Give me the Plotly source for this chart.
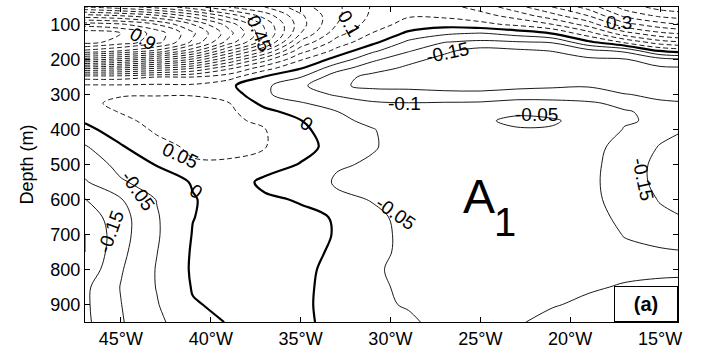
import plotly.graph_objects as go

# Grid: longitude (deg, negative = West) and depth (m)
lons = [-47, -45, -43, -41, -39, -37, -35, -33, -31, -29, -27, -25, -23, -21, -19, -17, -15, -13]
depths = [50, 75, 100, 125, 150, 175, 200, 225, 250, 275, 300, 325, 350, 375, 400,
          450, 500, 550, 600, 650, 700, 750, 800, 850, 900, 950]

# Mode amplitude field, one row per depth level
amp = [
    [0.55, 0.52, 0.48, 0.42, 0.35, 0.30, 0.22, 0.16, 0.095, 0.07, 0.08, 0.12, 0.18, 0.25, 0.32, 0.42, 0.47, 0.49],
    [0.72, 0.70, 0.66, 0.58, 0.48, 0.38, 0.26, 0.16, 0.09, 0.055, 0.06, 0.08, 0.12, 0.18, 0.25, 0.36, 0.41, 0.43],
    [0.88, 0.86, 0.80, 0.70, 0.58, 0.44, 0.27, 0.15, 0.075, 0.03, 0.02, 0.035, 0.06, 0.098, 0.17, 0.28, 0.33, 0.36],
    [0.98, 0.95, 0.88, 0.76, 0.62, 0.46, 0.25, 0.12, 0.048, -0.01, -0.04, -0.052, -0.03, 0.003, 0.08, 0.18, 0.24, 0.27],
    [0.97, 0.93, 0.87, 0.74, 0.58, 0.42, 0.19, 0.08, 0.015, -0.06, -0.098, -0.11, -0.103, -0.095, -0.01, 0.06, 0.13, 0.16],
    [0.84, 0.80, 0.74, 0.62, 0.45, 0.30, 0.12, 0.035, -0.04, -0.095, -0.14, -0.17, -0.16, -0.148, -0.115, -0.09, 0.005, 0.03],
    [0.62, 0.58, 0.52, 0.44, 0.30, 0.17, 0.055, -0.02, -0.09, -0.135, -0.165, -0.18, -0.18, -0.175, -0.16, -0.155, -0.12, -0.11],
    [0.36, 0.34, 0.30, 0.25, 0.16, 0.07, 0.003, -0.08, -0.13, -0.16, -0.175, -0.185, -0.185, -0.185, -0.18, -0.175, -0.158, -0.16],
    [0.12, 0.12, 0.10, 0.10, 0.07, -0.005, -0.048, -0.13, -0.165, -0.17, -0.175, -0.18, -0.182, -0.18, -0.18, -0.18, -0.17, -0.175],
    [0.042, 0.042, 0.04, 0.04, 0.01, -0.04, -0.09, -0.14, -0.165, -0.16, -0.163, -0.165, -0.162, -0.158, -0.155, -0.17, -0.17, -0.175],
    [0.04, 0.047, 0.048, 0.048, 0.03, -0.042, -0.08, -0.105, -0.12, -0.135, -0.14, -0.14, -0.13, -0.125, -0.12, -0.148, -0.158, -0.165],
    [0.042, 0.058, 0.06, 0.06, 0.052, -0.015, -0.045, -0.075, -0.095, -0.098, -0.095, -0.093, -0.08, -0.085, -0.095, -0.108, -0.145, -0.148],
    [0.03, 0.052, 0.065, 0.068, 0.06, 0.015, -0.02, -0.048, -0.075, -0.085, -0.08, -0.07, -0.054, -0.06, -0.078, -0.097, -0.108, -0.14],
    [0.005, 0.04, 0.063, 0.07, 0.065, 0.035, 0.002, -0.04, -0.06, -0.075, -0.068, -0.054, -0.045, -0.046, -0.062, -0.096, -0.106, -0.145],
    [-0.013, 0.025, 0.057, 0.068, 0.066, 0.052, 0.012, -0.03, -0.048, -0.07, -0.065, -0.055, -0.052, -0.053, -0.065, -0.102, -0.135, -0.155],
    [-0.055, -0.005, 0.035, 0.058, 0.06, 0.052, 0.02, -0.02, -0.047, -0.065, -0.068, -0.066, -0.062, -0.066, -0.085, -0.115, -0.153, -0.17],
    [-0.08, -0.035, 0.003, 0.045, 0.045, 0.025, -0.003, -0.045, -0.055, -0.066, -0.07, -0.072, -0.07, -0.072, -0.088, -0.12, -0.165, -0.18],
    [-0.105, -0.055, -0.03, 0.004, 0.03, -0.012, -0.015, -0.056, -0.058, -0.066, -0.07, -0.074, -0.072, -0.075, -0.09, -0.12, -0.165, -0.18],
    [-0.152, -0.103, -0.048, -0.003, 0.02, 0.008, -0.004, -0.04, -0.052, -0.064, -0.07, -0.074, -0.072, -0.076, -0.088, -0.118, -0.153, -0.17],
    [-0.18, -0.118, -0.054, -0.001, 0.015, 0.018, 0.01, -0.003, -0.042, -0.06, -0.068, -0.073, -0.072, -0.077, -0.087, -0.108, -0.14, -0.155],
    [-0.2, -0.118, -0.055, 0.002, 0.015, 0.02, 0.012, -0.002, -0.04, -0.058, -0.066, -0.072, -0.073, -0.078, -0.086, -0.101, -0.115, -0.13],
    [-0.2, -0.112, -0.051, 0.005, 0.015, 0.02, 0.01, -0.005, -0.042, -0.057, -0.065, -0.072, -0.075, -0.08, -0.086, -0.095, -0.095, -0.099],
    [-0.185, -0.104, -0.047, 0.006, 0.015, 0.02, 0.01, -0.012, -0.047, -0.056, -0.064, -0.072, -0.078, -0.085, -0.09, -0.094, -0.095, -0.094],
    [-0.16, -0.098, -0.048, 0.003, 0.012, 0.018, 0.008, -0.013, -0.045, -0.055, -0.064, -0.075, -0.085, -0.092, -0.097, -0.102, -0.105, -0.108],
    [-0.158, -0.101, -0.053, -0.003, 0.008, 0.015, 0.007, -0.013, -0.043, -0.053, -0.064, -0.08, -0.092, -0.098, -0.105, -0.108, -0.115, -0.12],
    [-0.16, -0.104, -0.06, -0.02, 0.003, 0.012, 0.008, -0.012, -0.045, -0.044, -0.062, -0.085, -0.097, -0.108, -0.112, -0.115, -0.122, -0.128],
]

# Axis ticks
lon_ticks = [-45, -40, -35, -30, -25, -20, -15]
lon_ticklabels = ["45°W", "40°W", "35°W", "30°W", "25°W", "20°W", "15°W"]
depth_ticks = [100, 200, 300, 400, 500, 600, 700, 800, 900]

# Contour labels: text, lon, depth, rotation
label_text = ["0.9", "0.45", "0.1", "0.3", "-0.15", "-0.1", "-0.05",
              "0", "0", "0.05", "-0.05", "-0.15", "-0.05", "-0.15"]
label_lon = [-43.8, -37.3, -32.3, -17.3, -26.8, -29.2, -21.9,
             -34.7, -40.8, -41.7, -44.05, -45.6, -29.7, -15.95]
label_depth = [139, 125, 97, 94, 181, 325, 358,
               384, 576, 473, 573, 693, 640, 543]
label_angle = [30, 68, 60, 0, -12, 0, 0,
               35, 35, 25, 55, -70, 35, 78]

FONT = "Liberation Sans, Arial, sans-serif"

fig = go.Figure()

# positive levels: thin dashed
fig.add_trace(go.Contour(
    x=lons, y=depths, z=amp, showscale=False, hoverinfo="skip",
    autocontour=False,
    contours=dict(start=0.05, end=1.3, size=0.05, coloring="none", showlabels=False),
    line=dict(color="black", width=0.9, dash="5px,3px", smoothing=1.0),
))
# negative levels: thin solid
fig.add_trace(go.Contour(
    x=lons, y=depths, z=amp, showscale=False, hoverinfo="skip",
    autocontour=False,
    contours=dict(start=-0.3, end=-0.045, size=0.05, coloring="none", showlabels=False),
    line=dict(color="black", width=0.9, smoothing=1.0),
))
# zero level: thick solid
fig.add_trace(go.Contour(
    x=lons, y=depths, z=amp, showscale=False, hoverinfo="skip",
    autocontour=False,
    contours=dict(start=0, end=0.01, size=1, coloring="none", showlabels=False),
    line=dict(color="black", width=2.2, smoothing=1.0),
))

annotations = []
for t, lo, de, an in zip(label_text, label_lon, label_depth, label_angle):
    annotations.append(dict(x=lo, y=de, xref="x", yref="y", text=t, textangle=an,
                            showarrow=False, font=dict(family=FONT, size=19, color="black")))

# mode name
annotations.append(dict(x=-25.06, y=591, xref="x", yref="y", text="A", showarrow=False,
                        font=dict(family=FONT, size=48, color="black")))
annotations.append(dict(x=-23.6, y=665, xref="x", yref="y", text="1", showarrow=False,
                        font=dict(family=FONT, size=40, color="black")))
# panel tag
annotations.append(dict(x=1.0, y=0.0, xref="paper", yref="paper", xanchor="right", yanchor="bottom",
                        text="<b>(a)</b>", showarrow=False, width=62, height=34,
                        bgcolor="white", bordercolor="black", borderwidth=1, borderpad=0,
                        font=dict(family=FONT, size=20, color="black")))

axis_common = dict(showline=True, linecolor="black", linewidth=1, mirror="ticks",
                   ticks="inside", ticklen=5, tickcolor="black", showgrid=False, zeroline=False,
                   tickfont=dict(family=FONT, size=18, color="black"))

fig.update_layout(
    width=703, height=355,
    margin=dict(l=85, r=25, t=6, b=25),
    paper_bgcolor="white", plot_bgcolor="white",
    showlegend=False,
    annotations=annotations,
    xaxis=dict(range=[-47, -14], tickvals=lon_ticks, ticktext=lon_ticklabels, **axis_common),
    yaxis=dict(range=[950, 50], tickvals=depth_ticks,
               title=dict(text="Depth (m)", font=dict(family=FONT, size=18, color="black"), standoff=12),
               **axis_common),
)

fig.write_html("out.html")
